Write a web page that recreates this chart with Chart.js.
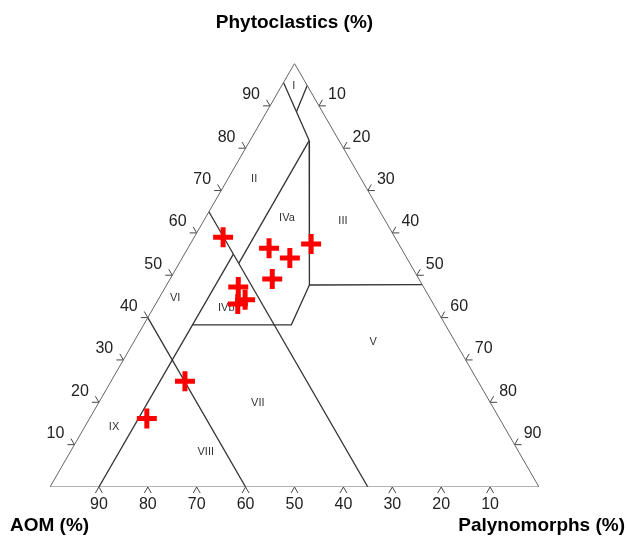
<!DOCTYPE html>
<html>
<head>
<meta charset="utf-8">
<script src="https://cdn.jsdelivr.net/npm/chart.js@4.4.0/dist/chart.umd.min.js"></script>
<style>
  html, body { margin: 0; padding: 0; background: #ffffff; }
  canvas { display: block; }
</style>
</head>
<body>
<canvas id="ternary" width="627" height="537"></canvas>
<script>
// Sample composition (%): phytoclasts, AOM, palynomorphs
const samplePhyto = [59.0, 56.4, 54.1, 57.4, 49.1, 47.2, 44.2, 43.2, 25.0, 16.2];
const sampleAOM   = [35.1, 27.0, 23.9, 17.9, 30.0, 37.9, 38.0, 40.0, 59.9, 72.1];
const samplePaly  = [ 5.9, 16.6, 22.0, 24.7, 20.9, 14.9, 17.8, 16.8, 15.1, 11.7];

// Axis tick values (%)
const tickValues = [10, 20, 30, 40, 50, 60, 70, 80, 90];

// Field boundaries, each a polyline of [phyto, AOM, paly] vertices
const fieldI    = [[95.5, 4.5, 0], [88.6, 5.3, 6.1], [81.8, 6.1, 12.1]];
const fieldIb   = [[94.8, 0, 5.2], [88.6, 5.3, 6.1]];
const fieldIII  = [[81.8, 6.1, 12.1], [47.7, 23.1, 29.2], [47.8, 0, 52.2]];
const fieldIVb  = [[47.7, 23.1, 29.2], [38.3, 31.5, 30.2], [38.3, 51.7, 10]];
const fieldII   = [[81.8, 6.1, 12.1], [52.8, 35.0, 12.2]];
const aom35     = [[65, 35, 0], [0, 35, 65]];
const aom60     = [[40, 60, 0], [0, 60, 40]];
const paly10    = [[0, 90, 10], [55, 35, 10]];
const boundaries = [fieldI, fieldIb, fieldIII, fieldIVb, fieldII, aom35, aom60, paly10];

// Field names and their label positions [phyto, AOM, paly]
const fieldNames = ['I', 'II', 'III', 'IVa', 'IVb', 'V', 'VI', 'VII', 'VIII', 'IX'];
const fieldPos = [
  [94.7, 2.8, 2.5], [72.7, 21.9, 5.4], [62.8, 8.7, 28.5], [63.5, 19.8, 16.7],
  [42.3, 42.9, 14.9], [34.2, 16.8, 49.0], [44.6, 52.1, 3.3], [19.8, 47.6, 32.6],
  [8.3, 64.0, 27.7], [14.2, 79.8, 6.0]
];

const H = Math.sqrt(3) / 2;
// Ternary (phyto, AOM, paly) -> cartesian data coordinates
function tern(p, a, q) { return { x: q + p / 2, y: p * H }; }

const outline = [tern(100, 0, 0), tern(0, 100, 0), tern(0, 0, 100), tern(100, 0, 0)];

const datasets = [];
datasets.push({
  label: 'Samples',
  data: samplePhyto.map((p, i) => tern(p, sampleAOM[i], samplePaly[i])),
  pointStyle: 'cross',
  pointRadius: 10,
  pointBorderWidth: 5,
  borderColor: '#ff0000',
  backgroundColor: '#ff0000',
  showLine: false,
  order: -1
});
datasets.push({
  label: 'outline',
  data: outline,
  showLine: true,
  pointRadius: 0,
  borderColor: '#666666',
  borderWidth: 1,
  fill: false
});
boundaries.forEach((line, k) => {
  datasets.push({
    label: 'field' + k,
    data: line.map(v => tern(v[0], v[1], v[2])),
    showLine: true,
    pointRadius: 0,
    borderColor: '#333333',
    borderWidth: 1.3,
    fill: false
  });
});

const ternaryDecor = {
  id: 'ternaryDecor',
  beforeDatasetsDraw(chart) {
    const { ctx } = chart;
    const sx = chart.scales.x, sy = chart.scales.y;
    const px = (p, a, q) => {
      const c = tern(p, a, q);
      return [sx.getPixelForValue(c.x), sy.getPixelForValue(c.y)];
    };
    const arm = 7;
    const chevron = (x0, y0, d1, d2) => {
      const r1 = d1 * Math.PI / 180, r2 = d2 * Math.PI / 180;
      ctx.beginPath();
      ctx.moveTo(x0 + arm * Math.cos(r1), y0 + arm * Math.sin(r1));
      ctx.lineTo(x0, y0);
      ctx.lineTo(x0 + arm * Math.cos(r2), y0 + arm * Math.sin(r2));
      ctx.stroke();
    };
    ctx.save();
    ctx.strokeStyle = '#444444';
    ctx.lineWidth = 1;
    ctx.fillStyle = '#222222';
    ctx.font = '16px "Liberation Sans", Arial, sans-serif';
    ctx.textAlign = 'center';
    ctx.textBaseline = 'middle';
    tickValues.forEach(v => {
      // phytoclasts along the left edge
      let [ex, ey] = px(v, 100 - v, 0);
      chevron(ex, ey, 180, 240);
      ctx.fillText(String(v), ex - 19, ey - 11);
      // palynomorphs along the right edge
      [ex, ey] = px(100 - v, 0, v);
      chevron(ex, ey, 300, 360);
      ctx.fillText(String(v), ex + 18, ey - 11);
      // AOM along the bottom edge
      [ex, ey] = px(0, v, 100 - v);
      chevron(ex, ey, 60, 120);
      ctx.fillText(String(v), ex, ey + 18);
    });

    // field labels
    ctx.fillStyle = '#333333';
    ctx.font = '11px "Liberation Sans", Arial, sans-serif';
    fieldNames.forEach((name, i) => {
      const [lx, ly] = px(fieldPos[i][0], fieldPos[i][1], fieldPos[i][2]);
      ctx.fillText(name, lx, ly);
    });

    // axis titles
    ctx.fillStyle = '#000000';
    ctx.font = 'bold 19px "Liberation Sans", Arial, sans-serif';
    const [tx, ty] = px(100, 0, 0);
    ctx.textAlign = 'center';
    ctx.fillText('Phytoclastics (%)', tx, ty - 41);
    const [, by] = px(0, 100, 0);
    ctx.textAlign = 'left';
    ctx.fillText('AOM (%)', 10, by + 39);
    ctx.textAlign = 'right';
    ctx.fillText('Palynomorphs (%)', 625, by + 39);
    ctx.restore();
  }
};

new Chart(document.getElementById('ternary'), {
  type: 'scatter',
  data: { datasets },
  options: {
    responsive: false,
    animation: false,
    events: [],
    layout: { padding: { left: 50, right: 88, top: 63.5, bottom: 50 } },
    scales: {
      x: { type: 'linear', min: 0, max: 100, display: false },
      y: { type: 'linear', min: 0, max: 100 * H, display: false }
    },
    plugins: {
      legend: { display: false },
      tooltip: { enabled: false }
    }
  },
  plugins: [ternaryDecor]
});
</script>
</body>
</html>
